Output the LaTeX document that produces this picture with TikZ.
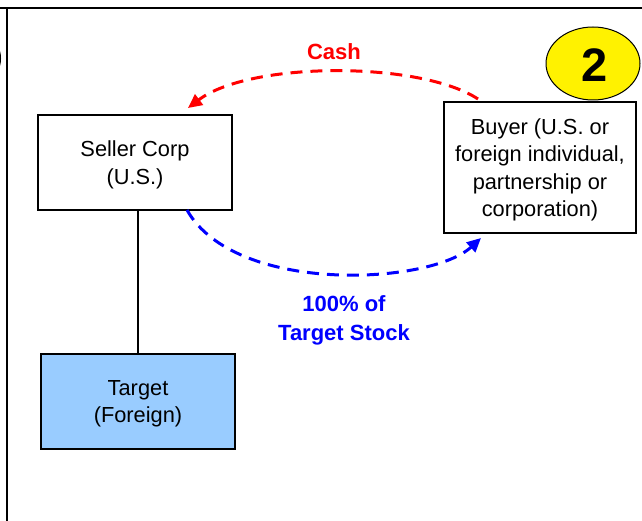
\documentclass[tikz,border=0pt]{standalone}
\usepackage{fontspec}
\setmainfont{Liberation Sans}
\usetikzlibrary{arrows.meta,shapes.geometric}
\definecolor{lightblue}{HTML}{99CCFF}
\definecolor{cashred}{HTML}{FF0000}
\definecolor{stockblue}{HTML}{0000FF}
\tikzset{
  entity/.style={draw=black, line width=1.2pt, fill=white, align=center,
    font=\fontsize{21.8}{27.5}\selectfont, inner sep=0pt, text depth=0pt},
  flow/.style={line width=3pt, dash pattern=on 12pt off 8pt,
    -{Triangle[length=14pt,width=13pt]}},
  flowlabel/.style={font=\fontsize{22}{29}\selectfont\bfseries, align=center}
}
\begin{document}
\begin{tikzpicture}[x=1pt,y=-1pt]
\useasboundingbox (0,0) rectangle (642,521);
% frame
\draw[line width=2.5pt] (0,8) -- (642,8);
\draw[line width=2.5pt] (7,8) -- (7,521);
% partial circle of neighbouring panel
\begin{scope}
\clip (0,0) rectangle (6,521);
\draw[fill=yellow, line width=1pt] (-46.5,58.5) ellipse [x radius=47, y radius=36];
\end{scope}
% step marker
\node[draw=black, line width=1pt, fill=yellow, ellipse, minimum width=94pt, minimum height=73pt, inner sep=0pt] (step) at (593,63.5) {};
\node[font=\fontsize{47}{47}\selectfont\bfseries] (stepnum) at (595,65) {2};
% boxes
\node[entity, minimum width=194pt, minimum height=95pt] (seller) at (135,162.5) {Seller Corp\\(U.S.)};
\node[entity, minimum width=192pt, minimum height=131pt] (buyer) at (540,167.5) {Buyer (U.S. or\\foreign individual,\\partnership or\\corporation)};
\node[entity, fill=lightblue, minimum width=194pt, minimum height=95pt] (target) at (138,401.5) {Target\\(Foreign)};
% ownership line
\draw[line width=1.2pt] (target.north) -- (target.north |- seller.south);
% flows
\coordinate (cashstart) at (478,99);
\coordinate (cashend) at (188,108);
\draw[flow, cashred] (cashstart) .. controls (420,61) and (250,61) .. (cashend);
\coordinate (stockstart) at (187,210);
\coordinate (stockend) at (481,238);
\draw[flow, stockblue] (stockstart) .. controls (235,295) and (430,285) .. (stockend);
% labels
\node[flowlabel, text=cashred] (cashlabel) at (334,52) {Cash};
\node[flowlabel, text=stockblue] (stocklabel) at (344,320) {100\% of\\Target Stock};
\end{tikzpicture}
\end{document}
